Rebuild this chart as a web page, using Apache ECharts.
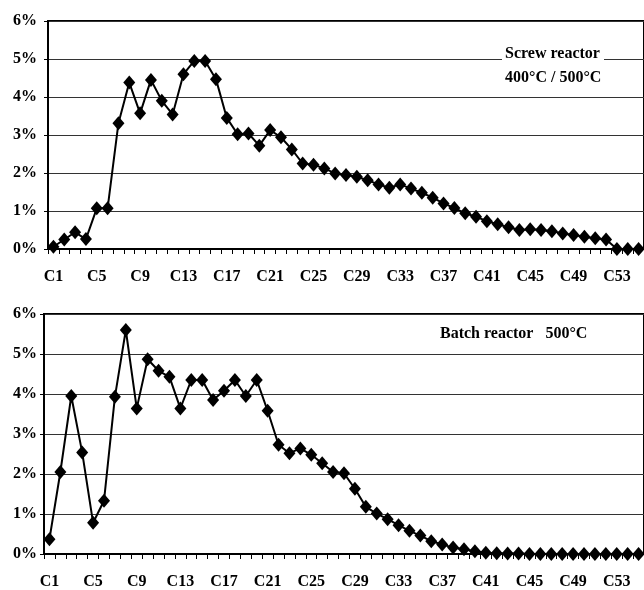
<!DOCTYPE html>
<html>
<head>
<meta charset="utf-8">
<script src="https://cdn.jsdelivr.net/npm/echarts@6/dist/echarts.min.js"></script>
<style>
  html, body { margin: 0; padding: 0; background: #fff; }
  #chart { width: 644px; height: 590px; }
</style>
</head>
<body>
<div id="chart"></div>
<script>
// Carbon-number distribution of the pyrolysis oil (wt %), C1 .. C55
const carbonNumbers = Array.from({ length: 55 }, (_, i) => 'C' + (i + 1));

const screwReactor = [
  0.06, 0.25, 0.44, 0.26, 1.07, 1.07, 3.31, 4.38, 3.57, 4.45,
  3.90, 3.54, 4.60, 4.95, 4.95, 4.47, 3.45, 3.02, 3.04, 2.72,
  3.13, 2.94, 2.62, 2.25, 2.22, 2.12, 1.99, 1.95, 1.90, 1.81,
  1.70, 1.61, 1.70, 1.59, 1.48, 1.35, 1.20, 1.08, 0.94, 0.85,
  0.73, 0.65, 0.57, 0.50, 0.52, 0.50, 0.47, 0.41, 0.37, 0.32,
  0.28, 0.25, 0.00, 0.00, 0.00
];

const batchReactor = [
  0.37, 2.05, 3.95, 2.54, 0.78, 1.33, 3.93, 5.60, 3.64, 4.87,
  4.58, 4.43, 3.64, 4.35, 4.35, 3.85, 4.08, 4.35, 3.95, 4.35,
  3.58, 2.73, 2.52, 2.64, 2.48, 2.27, 2.05, 2.02, 1.63, 1.18,
  1.01, 0.87, 0.72, 0.58, 0.46, 0.32, 0.24, 0.16, 0.12, 0.07,
  0.03, 0.02, 0.01, 0.01, 0.00, 0.00, 0.00, 0.00, 0.00, 0.00,
  0.00, 0.00, 0.00, 0.00, 0.00
];

const percentTicks = [0, 1, 2, 3, 4, 5, 6];

const FONT = "'Liberation Serif', 'Times New Roman', serif";

function xAxisFor(gridIndex, labelMargin) {
  return {
    type: 'category',
    gridIndex: gridIndex,
    data: carbonNumbers,
    boundaryGap: true,
    axisLine: { show: true, lineStyle: { color: '#000', width: 2 } },
    axisTick: { show: true, interval: 0, length: 5, lineStyle: { color: '#000', width: 1 } },
    axisLabel: {
      interval: 3,
      margin: labelMargin,
      color: '#000',
      fontFamily: FONT,
      fontWeight: 'bold',
      fontSize: 16
    },
    splitLine: { show: false }
  };
}

function yAxisFor(gridIndex, labelMargin) {
  return {
    type: 'value',
    gridIndex: gridIndex,
    min: percentTicks[0],
    max: percentTicks[percentTicks.length - 1],
    interval: 1,
    axisLine: { show: true, lineStyle: { color: '#000', width: 2 } },
    axisTick: { show: true, length: 4, lineStyle: { color: '#000', width: 1 } },
    axisLabel: {
      margin: labelMargin,
      color: '#000',
      fontFamily: FONT,
      fontWeight: 'bold',
      fontSize: 16,
      formatter: v => v + '%'
    },
    splitLine: { show: true, lineStyle: { color: '#333', width: 1 } }
  };
}

function lineSeries(name, data, idx) {
  return {
    name: name,
    type: 'line',
    xAxisIndex: idx,
    yAxisIndex: idx,
    data: data,
    symbol: 'diamond',
    symbolSize: [12, 14],
    showSymbol: true,
    showAllSymbol: true,
    itemStyle: { color: '#000' },
    lineStyle: { color: '#000', width: 2 },
    animation: false,
    z: 5
  };
}

const chart = echarts.init(document.getElementById('chart'), null, { renderer: 'canvas' });

chart.setOption({
  backgroundColor: '#fff',
  animation: false,
  grid: [
    { left: 48, top: 21, width: 597, height: 228, show: true,
      backgroundColor: 'transparent', borderColor: '#000', borderWidth: 2 },
    { left: 44, top: 314, width: 601, height: 242, show: true,
      backgroundColor: 'transparent', borderColor: '#000', borderWidth: 2 }
  ],
  xAxis: [xAxisFor(0, 20), xAxisFor(1, 20)],
  yAxis: [yAxisFor(0, 11), yAxisFor(1, 7)],
  series: [
    lineSeries('Screw reactor 400°C / 500°C', screwReactor, 0),
    lineSeries('Batch reactor 500°C', batchReactor, 1)
  ],
  graphic: [
    {
      type: 'rect',
      left: 502, top: 40,
      shape: { width: 102, height: 42 },
      style: { fill: '#fff' },
      z: 3
    },
    {
      type: 'text',
      left: 505, top: 42,
      style: {
        text: 'Screw reactor\n400°C / 500°C',
        font: 'bold 16px ' + FONT,
        fill: '#000',
        lineHeight: 24
      },
      z: 4
    },
    {
      type: 'text',
      left: 440, top: 326,
      style: {
        text: 'Batch reactor   500°C',
        font: 'bold 16px ' + FONT,
        fill: '#000'
      },
      z: 4
    }
  ]
});
</script>
</body>
</html>
